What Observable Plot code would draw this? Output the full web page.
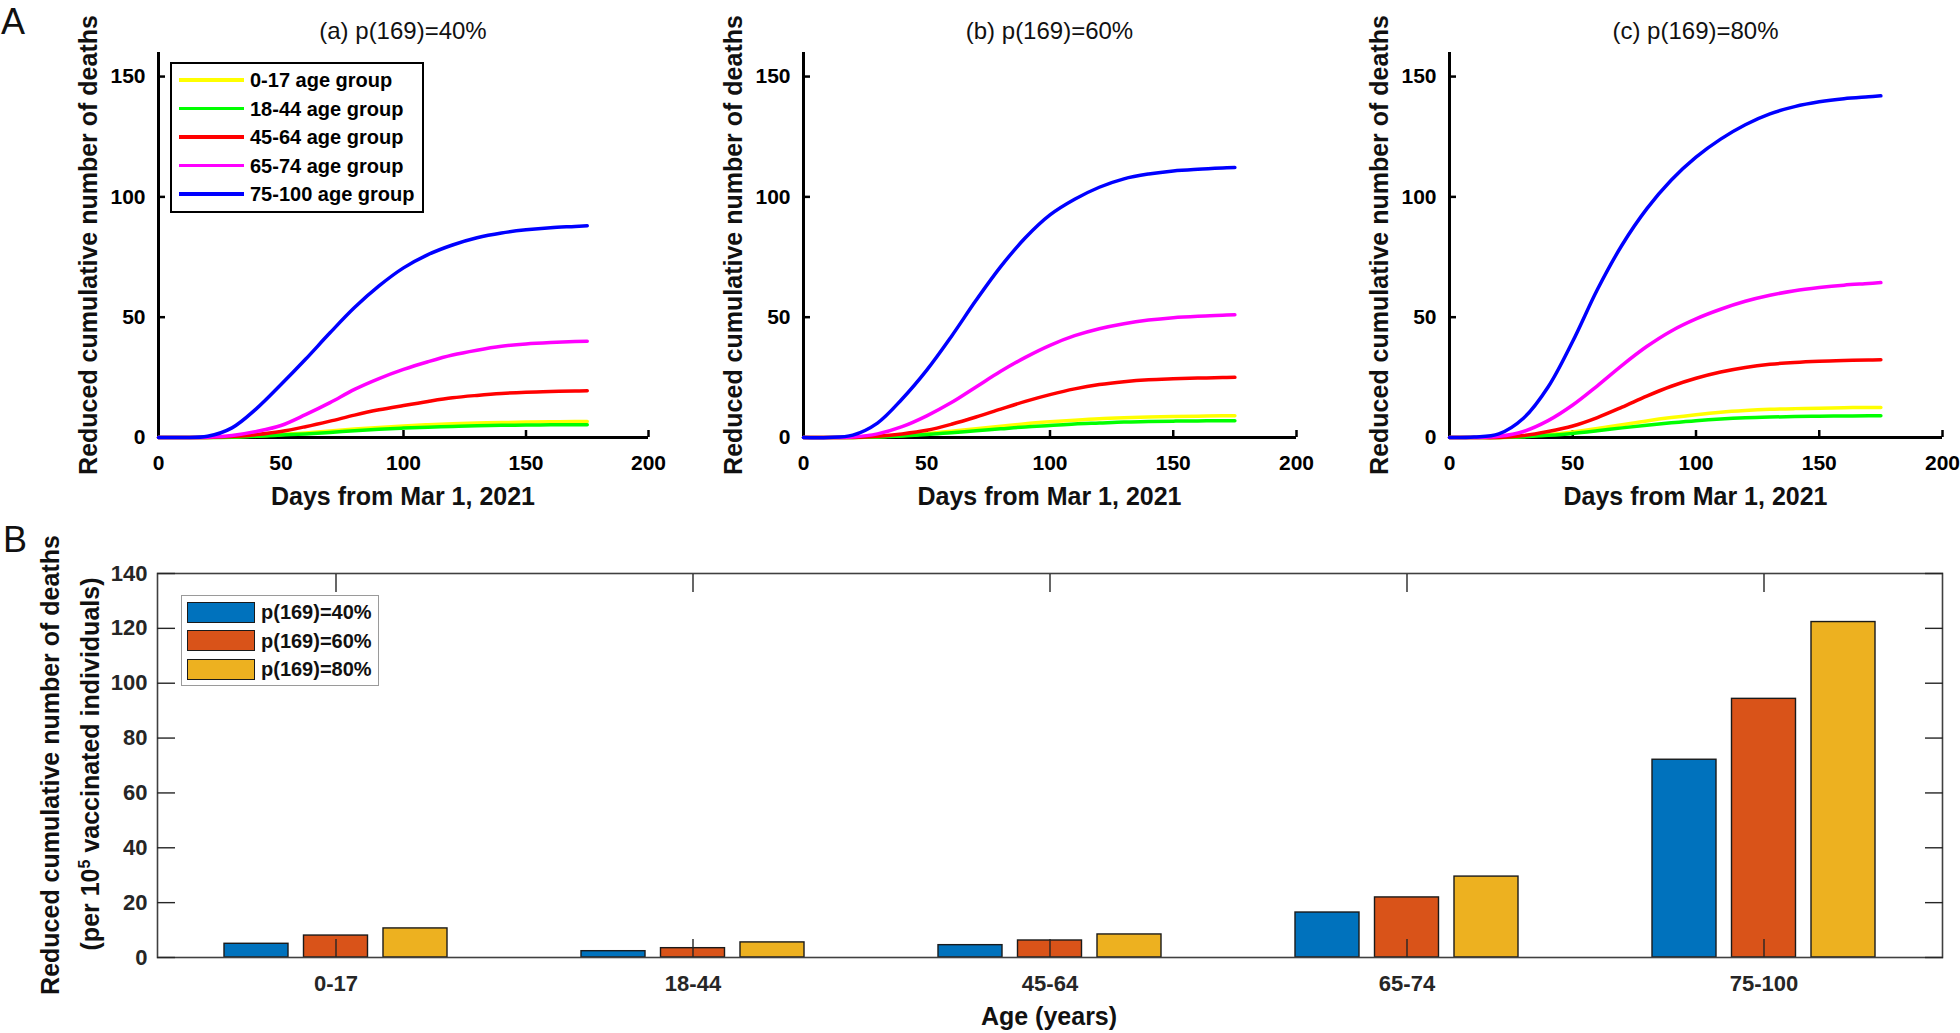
<!DOCTYPE html>
<html><head><meta charset="utf-8">
<script src="https://cdn.jsdelivr.net/npm/d3@7"></script>
<script src="https://cdn.jsdelivr.net/npm/@observablehq/plot@0.6"></script>
<style>
body{margin:0;background:#fff;}
#fig{position:relative;width:1960px;height:1033px;overflow:hidden;font-family:"Liberation Sans",Arial,Helvetica,sans-serif;color:#111;background:#fff}
.abs{position:absolute;white-space:nowrap;line-height:1}
.rot{transform:translate(-50%,-50%) rotate(-90deg)}
.ctr{transform:translate(-50%,-50%)}
.lab{font-weight:bold;font-size:25px}
.ttl{font-size:24px}
.big{font-size:36px}
</style></head><body><div id="fig"></div>
<script>
// ---------- data: panel A ----------
const days = [0,10,20,30,40,50,60,70,80,90,100,110,120,130,140,150,160,170,175];
const ageGroups = ["0-17 age group","18-44 age group","45-64 age group","65-74 age group","75-100 age group"];
const lineColors = ["#ffff00","#00ff00","#ff0000","#ff00ff","#0000ff"];
const panelTitles = ["(a) p(169)=40%","(b) p(169)=60%","(c) p(169)=80%"];
const xTicksA = [0,50,100,150,200];
const yTicksA = [0,50,100,150];

// (a) p(169)=40%
const p40_0_17   = [0,0,0,0.2,0.6,1.2,1.9,2.7,3.5,4.2,4.8,5.3,5.7,6,6.2,6.4,6.5,6.6,6.6];
const p40_18_44  = [0,0,0,0.15,0.5,1,1.5,2.1,2.8,3.4,3.9,4.3,4.6,4.9,5.05,5.15,5.25,5.3,5.3];
const p40_45_64  = [0,0,0,0.4,1.2,2.5,4.5,6.8,9.3,11.5,13.3,15,16.5,17.5,18.3,18.8,19.1,19.3,19.4];
const p40_65_74  = [0,0,0.1,0.8,2.5,5,9.5,14.5,20,24.5,28.3,31.5,34.3,36.3,37.9,38.9,39.5,39.9,40];
const p40_75_100 = [0,0,0.5,4,12,22,32.5,43.5,54,63,70.5,76,80,83,85,86.3,87.2,87.7,88];
// (b) p(169)=60%
const p60_0_17   = [0,0,0,0.3,0.8,1.6,2.6,3.6,4.7,5.7,6.5,7.2,7.8,8.2,8.5,8.7,8.85,9,9];
const p60_18_44  = [0,0,0,0.2,0.6,1.2,2,2.8,3.6,4.4,5,5.6,6,6.4,6.6,6.8,6.9,7,7];
const p60_45_64  = [0,0,0,0.5,1.5,3,5.5,8.5,11.8,15,17.8,20.2,22,23.2,24,24.4,24.7,24.9,25];
const p60_65_74  = [0,0,0.2,1.5,4.5,9,14.5,21,27.5,33.3,38.3,42.3,45.2,47.3,48.8,49.8,50.4,50.8,51];
const p60_75_100 = [0,0,1,6,16,28,42,57,71,83,92.5,99,104,107.5,109.5,110.8,111.5,112,112.2];
// (c) p(169)=80%
const p80_0_17   = [0,0,0,0.4,1.2,2.3,3.7,5.3,6.9,8.3,9.5,10.5,11.2,11.7,12,12.2,12.4,12.5,12.5];
const p80_18_44  = [0,0,0,0.3,0.9,1.7,2.8,4,5.1,6.1,7,7.7,8.2,8.5,8.7,8.85,8.95,9,9];
const p80_45_64  = [0,0,0,0.8,2.5,4.8,8.3,12.6,17.2,21.3,24.6,27.2,29.1,30.4,31.2,31.7,32,32.2,32.3];
const p80_65_74  = [0,0,0.5,2.5,7,13.5,21.5,30,37.8,44.3,49.3,53.3,56.6,59.1,61,62.3,63.3,64,64.4];
const p80_75_100 = [0,0.2,1.5,8,21,40,61.5,80,95,107,116.5,124,130,134.5,137.5,139.5,140.8,141.6,142];

// ---------- data: panel B ----------
const ageCategories = ["0-17","18-44","45-64","65-74","75-100"];
const barSeries = ["p(169)=40%","p(169)=60%","p(169)=80%"];
const barColors = ["#0072BD","#D95319","#EDB120"];
const bar40 = [5.0, 2.3, 4.5, 16.4, 72.1];
const bar60 = [8.0, 3.4, 6.2, 21.9, 94.3];
const bar80 = [10.6, 5.5, 8.4, 29.5, 122.3];
const yTicksB = [0,20,40,60,80,100,120,140];

// ---------- layout helpers ----------
const fig = document.getElementById("fig");
function place(node, left, top) {
  const d = document.createElement("div");
  d.className = "abs"; d.style.left = left + "px"; d.style.top = top + "px";
  d.appendChild(node); fig.appendChild(d); return d;
}
function label(text, x, y, cls, html) {
  const d = document.createElement("div");
  d.className = "abs " + cls;
  d.style.left = x + "px"; d.style.top = y + "px";
  if (html) d.innerHTML = text; else d.textContent = text;
  fig.appendChild(d); return d;
}
const svgStyle = {fontFamily: "'Liberation Sans', Arial, sans-serif", fontWeight: "bold", color: "#000",
  overflow: "visible", maxWidth: "none", background: "transparent"};

// ---------- panel A ----------
const panels = [
  [p40_0_17, p40_18_44, p40_45_64, p40_65_74, p40_75_100],
  [p60_0_17, p60_18_44, p60_45_64, p60_65_74, p60_75_100],
  [p80_0_17, p80_18_44, p80_45_64, p80_65_74, p80_75_100]
];
const axisLeft = [158, 803, 1449];
const plotW = [490, 493, 493];
panels.forEach((series, i) => {
  const rows = [];
  series.forEach((vals, g) => vals.forEach((v, k) => rows.push({day: days[k], value: v, group: ageGroups[g]})));
  const width = 158 + plotW[i] + 14;
  const svg = Plot.plot({
    width, height: 520,
    marginLeft: 158, marginRight: 14, marginTop: 52, marginBottom: 83,
    x: {domain: [0, 200]},
    y: {domain: [0, 160]},
    color: {domain: ageGroups, range: lineColors},
    style: {...svgStyle, fontSize: "21px"},
    marks: [
      Plot.ruleX([0], {stroke: "#000", strokeWidth: 3}),
      Plot.ruleY([0], {stroke: "#000", strokeWidth: 3}),
      Plot.axisX({ticks: xTicksA, tickSize: -7, tickPadding: 25, strokeWidth: 2.5, label: null, tickFormat: d => String(d)}),
      Plot.axisY({ticks: yTicksA, tickSize: -7, tickPadding: 20, strokeWidth: 2.5, label: null, tickFormat: d => String(d)}),
      Plot.line(rows, {x: "day", y: "value", z: "group", stroke: "group", strokeWidth: 3.5, curve: "catmull-rom"})
    ]
  });
  place(svg, axisLeft[i] - 158, 0);
  const cx = axisLeft[i] + plotW[i] / 2;
  label(panelTitles[i], cx, 31, "ttl ctr");
  label("Days from Mar 1, 2021", cx, 496, "lab ctr");
  label("Reduced cumulative number of deaths", axisLeft[i] - 70, 245, "lab rot");
});
label("A", 1, 22, "big").style.transform = "translate(0,-50%)";

// legend for panel (a)
(function(){
  const box = document.createElement("div");
  box.className = "abs";
  Object.assign(box.style, {left: "170px", top: "62px", width: "250px", height: "147px",
    border: "2.5px solid #000", background: "#fff"});
  ageGroups.forEach((g, k) => {
    const cy = 16 + k * 28.5;
    const ln = document.createElement("div");
    Object.assign(ln.style, {position: "absolute", left: "7px", top: (cy - 1.75) + "px", width: "65px", height: "3.5px", background: lineColors[k]});
    const tx = document.createElement("div");
    tx.textContent = g;
    Object.assign(tx.style, {position: "absolute", left: "78px", top: (cy - 11) + "px", fontSize: "20px", fontWeight: "bold", lineHeight: "22px", whiteSpace: "nowrap", color: "#000"});
    box.appendChild(ln); box.appendChild(tx);
  });
  fig.appendChild(box);
})();

// ---------- panel B ----------
const barRows = [];
ageCategories.forEach((c, k) => [bar40, bar60, bar80].forEach((arr, s) => barRows.push({age: c, value: arr[k], series: barSeries[s]})));
const bandW = (1960 - 157 - 18) / ageCategories.length;
const barW = 64, barStep = 79.5;
const svgB = Plot.plot({
  width: 1960, height: 513,
  marginLeft: 157, marginRight: 18, marginTop: 53, marginBottom: 76,
  x: {domain: ageCategories, padding: 0},
  y: {domain: [0, 140]},
  color: {domain: barSeries, range: barColors},
  style: {...svgStyle, fontSize: "22px", color: "#262626"},
  marks: [
    ...barSeries.map((s, j) => Plot.barY(barRows.filter(d => d.series === s), {
      x: "age", y: "value", fill: "series", stroke: "#1a1a1a", strokeWidth: 1.4,
      insetLeft: (bandW - barW) / 2, insetRight: (bandW - barW) / 2, dx: (j - 1) * barStep
    })),
    Plot.frame({stroke: "#404040", strokeWidth: 1.6}),
    Plot.axisX({anchor: "bottom", tickSize: -18, tickPadding: 36, strokeWidth: 1.4, label: null}),
    Plot.axisX({anchor: "top", tickSize: -18, tickFormat: () => "", strokeWidth: 1.4, label: null}),
    Plot.axisY({anchor: "left", ticks: yTicksB, tickSize: -18, tickPadding: 28, strokeWidth: 1.4, label: null, tickFormat: d => String(d)}),
    Plot.axisY({anchor: "right", ticks: yTicksB, tickSize: -18, tickFormat: () => "", strokeWidth: 1.4, label: null})
  ]
});
place(svgB, 0, 520);
label("B", 3, 540, "big").style.transform = "translate(0,-50%)";
label("Reduced cumulative number of deaths", 50, 765, "lab rot");
label("(per 10<sup style='font-size:16px;vertical-align:9px'>5</sup> vaccinated individuals)", 90, 764, "lab rot", true);
label("Age (years)", 1049, 1016, "lab ctr");

// legend for panel B
(function(){
  const box = document.createElement("div");
  box.className = "abs";
  Object.assign(box.style, {left: "181px", top: "595px", width: "196px", height: "89px",
    border: "1.5px solid #9a9a9a", background: "#fff"});
  barSeries.forEach((s, k) => {
    const cy = 16 + k * 28.5;
    const sw = document.createElement("div");
    Object.assign(sw.style, {position: "absolute", left: "5px", top: (cy - 10.5) + "px", width: "66px", height: "19px", background: barColors[k], border: "1.4px solid #1a1a1a"});
    const tx = document.createElement("div");
    tx.textContent = s;
    Object.assign(tx.style, {position: "absolute", left: "79px", top: (cy - 11) + "px", fontSize: "20px", fontWeight: "bold", lineHeight: "22px", whiteSpace: "nowrap", color: "#111"});
    box.appendChild(sw); box.appendChild(tx);
  });
  fig.appendChild(box);
})();
</script></body></html>
